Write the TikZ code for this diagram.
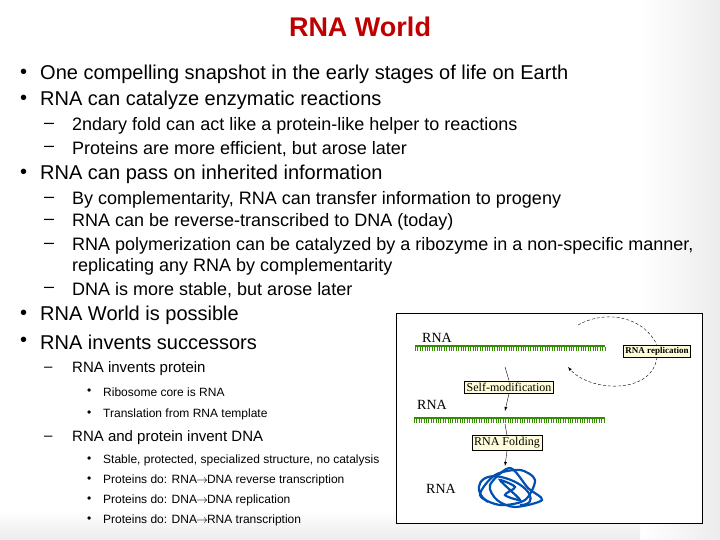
\documentclass[tikz,border=0pt]{standalone}
\usepackage{fontspec}
\setmainfont{Liberation Sans}
\newfontfamily\serifd{Liberation Serif}
\begin{document}
\begin{tikzpicture}[x=1pt,y=-1pt,
  lvA/.style={anchor=west,inner sep=0,font=\fontsize{20}{22}\selectfont},
  lvB/.style={anchor=west,inner sep=0,font=\fontsize{18}{20}\selectfont},
  lvC/.style={anchor=west,inner sep=0,font=\fontsize{12}{14}\selectfont},
  lab/.style={inner sep=0,font=\serifd\fontsize{14}{16}\selectfont},
  ybox/.style={draw,fill=yellow!15,inner sep=2pt,font=\serifd\fontsize{12}{14}\selectfont},
  strand/.style={draw=green!45!black!80!yellow}]
\useasboundingbox (0,0) rectangle (720,540);
\fill[gray!15] (0,0) rectangle (720,540);
\shade[left color=white,right color=gray!15] (640,0) rectangle (720,540);
\fill[white] (0,0) rectangle (640,510);
\shade[top color=white,bottom color=gray!15] (0,510) rectangle (640,540);
\node[inner sep=0,text=red!75!black,font=\bfseries\fontsize{27}{30}\selectfont] (title) at (360,27) {RNA World};
\foreach \y/\t [count=\i] in {74/One compelling snapshot in the early stages of life on Earth,100/RNA can catalyze enzymatic reactions,174/RNA can pass on inherited information,315/RNA World is possible,342/RNA invents successors}{
  \node[lvA] (ba\i) at (20,\y) {•};
  \node[lvA] (ta\i) at (40,\y) {\t};}
\foreach \y/\t [count=\i] in {126/2ndary fold can act like a protein-like helper to reactions,149/{Proteins are more efficient, but arose later},200/{By complementarity, RNA can transfer information to progeny},222/RNA can be reverse-transcribed to DNA (today),246/{RNA polymerization can be catalyzed by a ribozyme in a non-specific manner,},290/{DNA is more stable, but arose later}}{
  \node[lvB] (bb\i) at (44,\y) {–};
  \node[lvB] (tb\i) at (72,\y) {\t};}
\node[lvB] (tb7) at (72,267) {replicating any RNA by complementarity};
\node[lvB,font=\fontsize{15}{17}\selectfont] (bc1) at (44,369) {–};
\node[lvB,font=\fontsize{15}{17}\selectfont] (tc1) at (72,369) {RNA invents protein};
\node[lvB,font=\fontsize{15}{17}\selectfont] (bc2) at (44,438) {–};
\node[lvB,font=\fontsize{15}{17}\selectfont] (tc2) at (72,438) {RNA and protein invent DNA};
\foreach \y/\t [count=\i] in {392/Ribosome core is RNA,414/Translation from RNA template,460/{Stable, protected, specialized structure, no catalysis},480/{Proteins do: RNA\kern-1pt$\rightarrow$\kern-1ptDNA reverse transcription},500/{Proteins do: DNA\kern-1pt$\rightarrow$\kern-1ptDNA replication},520/{Proteins do: DNA\kern-1pt$\rightarrow$\kern-1ptRNA transcription}}{
  \node[lvC] (bd\i) at (87,\y) {•};
  \node[lvC] (td\i) at (103,\y) {\t};}
% diagram
\draw[fill=white] (396,313) rectangle (702,523);
\node[lab] (r1) at (437,338) {RNA};
\node[lab] (r2) at (432,405) {RNA};
\node[lab] (r3) at (441,489) {RNA};
\draw[strand,line width=1.8pt] (415,346) -- (605,346);
\draw[strand,line width=4pt,dash pattern=on 1pt off 1.4pt] (415,349) -- (605,349);
\draw[strand,line width=1.8pt] (414,418) -- (605,418);
\draw[strand,line width=4pt,dash pattern=on 1pt off 1.4pt] (414,421) -- (605,421);
\node[ybox,font=\serifd\bfseries\fontsize{9}{10}\selectfont] (rep) at (657,351) {RNA replication};
\node[ybox] (self) at (509,387) {Self-modification};
\node[ybox] (fold) at (507,443) {RNA Folding};
\coordinate (a1) at (505,367); \coordinate (a2) at (505,411);
\coordinate (a3) at (505,424); \coordinate (a4) at (505,466);
\draw (a1) -- (self.north); \draw[-latex] (self.south) -- (a2);
\draw (a3) -- (fold.north); \draw[-latex] (fold.south) -- (a4);
\coordinate (c1) at (578,325); \coordinate (c2) at (568,367);
\draw[densely dashed] (c1) .. controls (600,312) and (640,312) .. (rep.north);
\draw[densely dashed,-latex] (rep.south) .. controls (652,395) and (590,392) .. (c2);
\begin{scope}[draw=blue!55!cyan!70!black,line width=2.2pt]
\draw plot[smooth cycle] coordinates {(480,495) (495,475) (520,470) (535,480) (525,500) (500,505)};
\draw plot[smooth cycle] coordinates {(490,485) (510,468) (528,488) (542,500) (515,507) (497,500)};
\draw plot[smooth cycle] coordinates {(500,480) (515,487) (505,495) (520,500) (510,490)};
\draw (488,502) .. controls (470,490) and (480,470) .. (505,478) .. controls (530,485) and (540,505) .. (520,505);
\end{scope}
\end{tikzpicture}
\end{document}
